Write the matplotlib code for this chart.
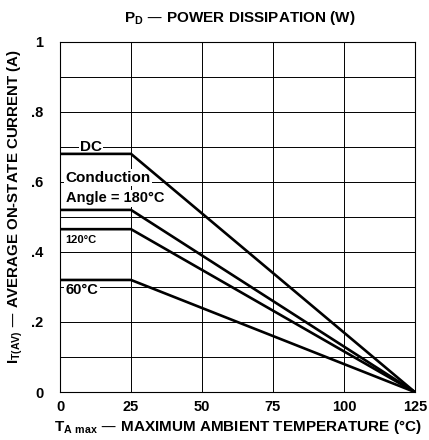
import numpy as np
import matplotlib
matplotlib.use("Agg")
import matplotlib.pyplot as plt

# derating curves: flat up to 25 C, then linear down to 0 A at 125 C
temps = [0, 25, 125]
dc = [0.68, 0.68, 0.0]
angle180 = [0.52, 0.52, 0.0]
angle120 = [0.465, 0.465, 0.0]
angle60 = [0.32, 0.32, 0.0]

xticks = [0, 25, 50, 75, 100, 125]
yticks = [0, 0.2, 0.4, 0.6, 0.8, 1.0]
ytick_labels = ["0", ".2", ".4", ".6", ".8", "1"]


def main():
    plt.rcParams["font.family"] = ["Liberation Sans", "DejaVu Sans"]
    plt.rcParams["font.weight"] = "bold"

    fig = plt.figure(figsize=(4.29, 4.40), dpi=100)
    ax = fig.add_axes([0.14, 0.109, 0.827, 0.796])

    ax.set_xlim(0, 125)
    ax.set_ylim(0, 1)

    # grid
    for x in xticks[1:-1]:
        ax.axvline(x, color="k", lw=0.7, zorder=1)
    for y in np.arange(0.1, 1.0, 0.1):
        ax.axhline(y, color="k", lw=0.7, zorder=1)

    for series in (dc, angle180, angle120, angle60):
        ax.plot(temps, series, color="k", lw=1.9, zorder=3)

    # labels sit over the grid but under the curves
    tb = dict(facecolor="white", edgecolor="none", pad=1)
    ax.text(7, 0.70, "DC", fontsize=11, va="center", ha="left", bbox=tb, zorder=2)
    ax.text(2, 0.612, "Conduction", fontsize=11, va="center", ha="left", bbox=tb, zorder=2)
    ax.text(2, 0.553, "Angle = 180°C", fontsize=10.5, va="center", ha="left", bbox=tb, zorder=2)
    ax.text(2, 0.434, "120°C", fontsize=8, va="center", ha="left", bbox=tb, zorder=2)
    ax.text(2, 0.29, "60°C", fontsize=10.5, va="center", ha="left", bbox=tb, zorder=2)

    ax.set_xticks(xticks)
    ax.set_xticklabels([str(v) for v in xticks], fontsize=10.5, fontweight="bold")
    ax.set_yticks(yticks)
    ax.set_yticklabels(ytick_labels, fontsize=10.5, fontweight="bold")
    ax.tick_params(length=0, pad=12, axis="y")
    ax.tick_params(length=0, pad=6, axis="x")
    for s in ax.spines.values():
        s.set_linewidth(0.8)

    fig.text(0.56, 0.958, r"P$_\mathregular{D}$ — POWER DISSIPATION (W)",
             ha="center", va="center", fontsize=11, fontweight="bold")
    fig.text(0.555, 0.03, r"T$_\mathregular{A\ max}$ — MAXIMUM AMBIENT TEMPERATURE (°C)",
             ha="center", va="center", fontsize=11, fontweight="bold")
    fig.text(0.035, 0.53, r"I$_\mathregular{T(AV)}$ — AVERAGE ON-STATE CURRENT (A)",
             ha="center", va="center", rotation=90, fontsize=10.8, fontweight="bold")

    fig.savefig("out.png", dpi=100)


if __name__ == "__main__":
    main()
